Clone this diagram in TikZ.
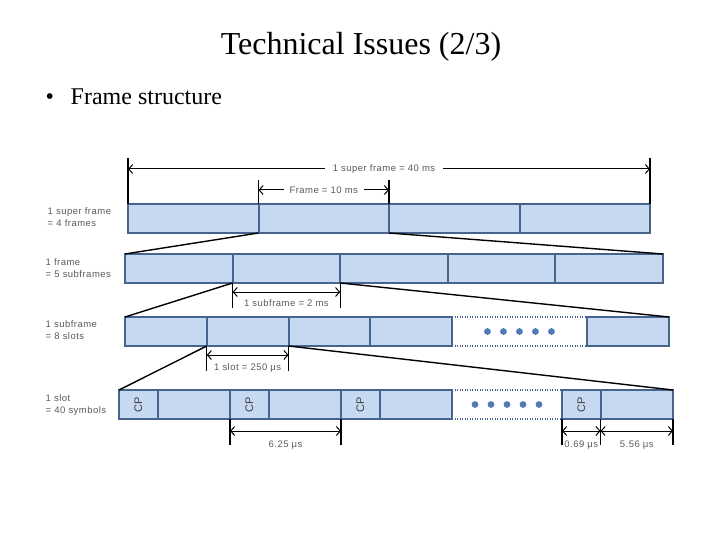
\documentclass[tikz,border=0pt]{standalone}
\usepackage{fontspec}
\setmainfont{Liberation Serif}
\newfontfamily\labfont{Liberation Sans}[LetterSpace=5]
\newfontfamily\cpfont{Liberation Sans}
\usetikzlibrary{arrows.meta,calc,positioning}
\definecolor{cellfill}{HTML}{C6D9F1}
\definecolor{celledge}{HTML}{46648C}
\definecolor{dotblue}{HTML}{4F7CB5}
\definecolor{labgray}{HTML}{5A5A5A}

\begin{document}
\begin{tikzpicture}[x=1pt, y=-1pt, line width=1.4pt,
      cell/.style={draw=celledge, fill=cellfill, line width=2pt, minimum height=29pt, inner sep=0pt, outer sep=0pt, anchor=north west},
      gap/.style={minimum height=29pt, inner sep=0pt, outer sep=0pt, anchor=north west},
      dotline/.style={draw=celledge, line width=1.8pt, dash pattern=on 1.2pt off 1.3pt},
      ext/.style={black, line width=1.4pt},
      dim/.style={black, line width=1pt, {Straight Barb[length=4pt,width=9pt]}-{Straight Barb[length=4pt,width=9pt]}},
      lab/.style={font=\labfont\fontsize{9.5}{11}\selectfont, text=labgray, inner sep=1pt},
      side/.style={lab, align=left, anchor=west, font=\labfont\fontsize{9.5}{12}\selectfont},
      cptext/.style={font=\cpfont\fontsize{11}{13}\selectfont, text=black!75}]
    \useasboundingbox (0,0) rectangle (720,540);
    \node (TITLE) [anchor=base] at (361,55) {\fontsize{32}{36}\selectfont Technical Issues (2/3)};
    \node (BUL) [anchor=base west, inner sep=0pt] at (45,105) {\fontsize{24}{28}\selectfont \textbullet};
    \node (SUB) [anchor=base west, inner sep=0pt] at (70,105) {\fontsize{24}{28}\selectfont Frame structure};

    \foreach \i in {0,...,3}
      \node (F\i) [cell, minimum width=130.5pt] at ({128+130.5*\i},204) {};
    \foreach \i in {0,...,4}
      \node (S\i) [cell, minimum width=107.6pt] at ({125+107.6*\i},254) {};
    \foreach \i in {0,...,3}
      \node (L\i) [cell, minimum width=81.75pt] at ({125+81.75*\i},317) {};
    \node (LG) [gap, minimum width=135pt] at (452,317) {};
    \node (L7) [cell, minimum width=82pt, right=0pt of LG] {};

    \node (CP1) [cell, cptext, minimum width=38.5pt] at (119,390) {\rotatebox{90}{CP}};
    \node (D1) [cell, minimum width=72.5pt, right=0pt of CP1] {};
    \node (CP2) [cell, cptext, minimum width=38.5pt, right=0pt of D1] {\rotatebox{90}{CP}};
    \node (D2) [cell, minimum width=72.5pt, right=0pt of CP2] {};
    \node (CP3) [cell, cptext, minimum width=38.5pt, right=0pt of D2] {\rotatebox{90}{CP}};
    \node (D3) [cell, minimum width=72.5pt, right=0pt of CP3] {};
    \node (DG) [gap, minimum width=110pt, right=0pt of D3] {};
    \node (CP4) [cell, cptext, minimum width=38.5pt, right=0pt of DG] {\rotatebox{90}{CP}};
    \node (D4) [cell, minimum width=72.5pt, right=0pt of CP4] {};

    \foreach \g in {LG,DG} {
      \draw [dotline] (\g.north west) -- (\g.north east);
      \draw [dotline] (\g.south west) -- (\g.south east);
      \foreach \k in {0,...,4}
        \fill [dotblue] ($(\g.center)+({(\k-2)*16},0)$) circle (3.4pt);
    }

    \draw (F0.south east) -- (S0.north west);
    \draw (F1.south east) -- (S4.north east);
    \draw (S0.south east) -- (L0.north west);
    \draw (S1.south east) -- (L7.north east);
    \draw (L0.south east) -- (CP1.north west);
    \draw (L1.south east) -- (D4.north east);

    \draw [ext] (F0.north west) -- (F0.north west |- 0,158);
    \draw [ext] (F3.north east) -- (F3.north east |- 0,158);
    \draw [dim] (F0.north west |- 0,169) -- (F3.north east |- 0,169)
      node [lab, midway, fill=white, inner xsep=8pt, xshift=-5pt] {1 super frame = 40 ms};
    \draw [ext] (F1.north west) -- (F1.north west |- 0,180);
    \draw [ext] (F2.north west) -- (F2.north west |- 0,180);
    \draw [dim] (F1.north west |- 0,190) -- (F2.north west |- 0,190)
      node [lab, midway, fill=white, inner xsep=6pt] {Frame = 10 ms};

    \draw [ext] (S1.south west) -- (S1.south west |- 0,308);
    \draw [ext] (S2.south west) -- (S2.south west |- 0,308);
    \draw [dim] (S1.south west |- 0,292) -- (S2.south west |- 0,292)
      node [lab, midway, below=6pt] {1 subframe = 2 ms};

    \draw [ext] (L1.south west) -- (L1.south west |- 0,371);
    \draw [ext] (L2.south west) -- (L2.south west |- 0,371);
    \draw [dim] (L1.south west |- 0,355) -- (L2.south west |- 0,355)
      node [lab, midway, below=7pt] {1 slot = 250 μs};

    \draw [ext] (CP2.south west) -- (CP2.south west |- 0,445);
    \draw [ext] (D2.south east) -- (D2.south east |- 0,445);
    \draw [dim] (CP2.south west |- 0,431) -- (D2.south east |- 0,431)
      node [lab, midway, below=8pt] {6.25 μs};

    \draw [ext] (CP4.south west) -- (CP4.south west |- 0,445);
    \draw [ext] (D4.south west) -- (D4.south west |- 0,445);
    \draw [ext] (D4.south east) -- (D4.south east |- 0,445);
    \draw [dim] (CP4.south west |- 0,431) -- (D4.south west |- 0,431)
      node [lab, midway, below=8pt] {0.69 μs};
    \draw [dim] (D4.south west |- 0,431) -- (D4.south east |- 0,431)
      node [lab, midway, below=8pt] {5.56 μs};

    \node (TSF) [side] at (46,217) {1 super frame\\= 4 frames};
    \node (TF) [side] at (44,268) {1 frame\\= 5 subframes};
    \node (TS) [side] at (44,330) {1 subframe\\= 8 slots};
    \node (TL) [side] at (44,405) {1 slot\\= 40 symbols};
  \end{tikzpicture}
\end{document}
